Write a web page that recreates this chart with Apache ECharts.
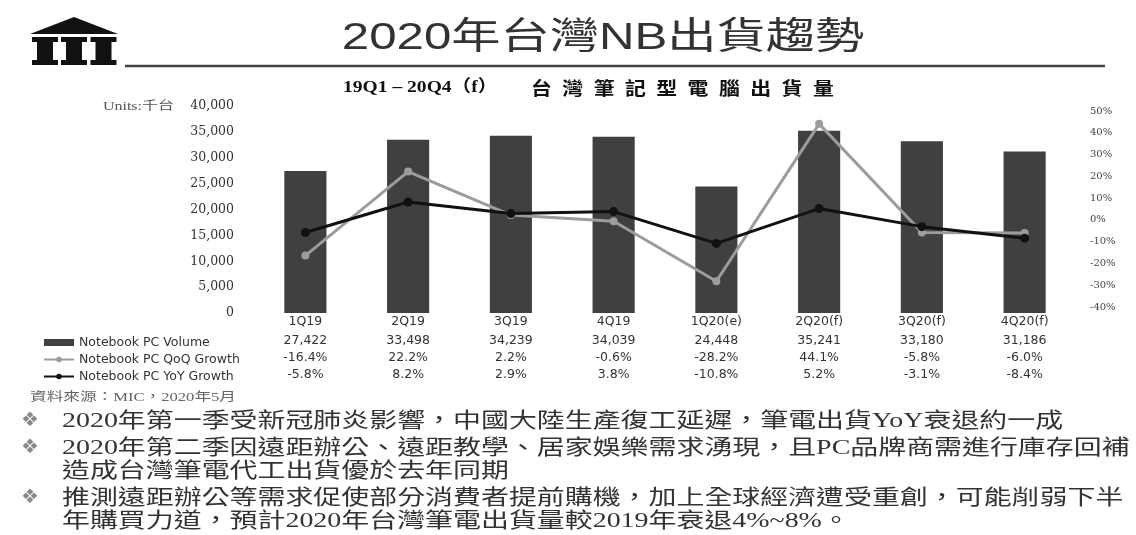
<!DOCTYPE html>
<html>
<head>
<meta charset="utf-8">
<script src="https://cdn.jsdelivr.net/npm/echarts@6/dist/echarts.min.js"></script>
<style>
  html, body { margin: 0; padding: 0; background: #fff; }
  #chart { width: 1136px; height: 535px; }
</style>
</head>
<body>
<div id="chart"></div>
<script>
// 資料
const categories = ['1Q19', '2Q19', '3Q19', '4Q19', '1Q20(e)', '2Q20(f)', '3Q20(f)', '4Q20(f)']
const volume = [27422, 33498, 34239, 34039, 24448, 35241, 33180, 31186]
const qoqGrowth = [-16.4, 22.2, 2.2, -0.6, -28.2, 44.1, -5.8, -6.0]
const yoyGrowth = [-5.8, 8.2, 2.9, 3.8, -10.8, 5.2, -3.1, -8.4]

const bullets = [
  '2020年第一季受新冠肺炎影響，中國大陸生產復工延遲，筆電出貨YoY衰退約一成',
  '2020年第二季因遠距辦公、遠距教學、居家娛樂需求湧現，且PC品牌商需進行庫存回補',
  '造成台灣筆電代工出貨優於去年同期',
  '推測遠距辦公等需求促使部分消費者提前購機，加上全球經濟遭受重創，可能削弱下半',
  '年購買力道，預計2020年台灣筆電出貨量較2019年衰退4%~8%。'
]

const SANS = 'DejaVu Sans'
const SERIF = "'Liberation Serif', 'Noto Sans CJK TC'"
const STRETCH = 1.33 // 投影片被橫向拉寬

const fmtPct = (v) => v.toFixed(1) + '%'

function text(str, x, y, style, scaleX) {
  return {
    type: 'text',
    x: x,
    y: y,
    scaleX: scaleX || 1,
    silent: true,
    style: Object.assign({ text: str, verticalAlign: 'middle', align: 'left', fill: '#222' }, style)
  }
}

function pillar(cx) {
  return [
    { type: 'rect', shape: { x: cx - 13, y: 37, width: 26, height: 5 }, style: { fill: '#111' } },
    { type: 'rect', shape: { x: cx - 8, y: 42, width: 16, height: 18 }, style: { fill: '#111' } },
    { type: 'rect', shape: { x: cx - 13, y: 60, width: 26, height: 5 }, style: { fill: '#111' } }
  ]
}

const bulletRows = [421, 448, 471, 498, 521]
const bulletMark = [true, true, false, true, false]

const graphics = [
  { type: 'polygon', shape: { points: [[30, 34], [74, 17], [118, 34]] }, style: { fill: '#111' } },
  ...pillar(45), ...pillar(74), ...pillar(103.5),
  { type: 'line', shape: { x1: 125, y1: 66, x2: 1105, y2: 66 }, style: { stroke: '#444', lineWidth: 2.5 } },
  text('2020年台灣NB出貨趨勢', 603, 39, {
    align: 'center', fontSize: 37, fontFamily: "'Liberation Sans', 'Noto Sans CJK TC'", fill: '#333'
  }, STRETCH),
  text('19Q1 – 20Q4（f）', 343, 88, { fontSize: 17, fontWeight: 'bold', fontFamily: SERIF, fill: '#111' }, 1.15),
  text('台\u2002灣\u2002筆\u2002記\u2002型\u2002電\u2002腦\u2002出\u2002貨\u2002量', 531, 88, {
    fontSize: 18, fontWeight: 'bold', fontFamily: "'Noto Sans CJK TC'", fill: '#111'
  }, 1.16),
  text('Units:千台', 103, 107, { fontSize: 12, fontFamily: SERIF, fill: '#555' }, STRETCH),
  text('資料來源：MIC，2020年5月', 30, 398, { fontSize: 12.5, fontFamily: SERIF, fill: '#666' }, STRETCH)
]

bullets.forEach((line, i) => {
  if (bulletMark[i]) {
    graphics.push(text('❖', 30, bulletRows[i], { align: 'center', fontSize: 20, fontFamily: SANS, fill: '#888' }))
  }
  graphics.push(text(line, 62, bulletRows[i], { fontSize: 21, fontFamily: SERIF, fill: '#333' }, STRETCH))
})

const rowAxis = (offset, formatter) => ({
  type: 'category',
  gridIndex: 0,
  position: 'bottom',
  offset: offset,
  data: categories,
  axisLine: { show: false },
  axisTick: { show: false },
  axisLabel: { interval: 0, margin: 2, fontFamily: SANS, fontSize: 12.5, color: '#333', formatter: formatter }
})

const chart = echarts.init(document.getElementById('chart'))

const options = {
  animation: false,
  backgroundColor: '#fff',
  graphic: graphics,
  legend: {
    orient: 'vertical',
    left: 38,
    top: 330,
    itemWidth: 30,
    itemHeight: 7,
    itemGap: 2,
    textStyle: { fontFamily: SANS, fontSize: 12.5, color: '#333', lineHeight: 15 },
    data: [
      { name: 'Notebook PC Volume', icon: 'rect' },
      'Notebook PC QoQ Growth',
      'Notebook PC YoY Growth'
    ]
  },
  grid: [
    { left: 254, right: 60, top: 106, bottom: 222 },
    { left: 254, right: 60, top: 111, bottom: 228 }
  ],
  xAxis: [
    rowAxis(0),
    rowAxis(19, (v, i) => volume[i].toLocaleString('en-US')),
    rowAxis(36, (v, i) => fmtPct(qoqGrowth[i])),
    rowAxis(53, (v, i) => fmtPct(yoyGrowth[i])),
    {
      type: 'category',
      gridIndex: 1,
      data: categories,
      show: false
    }
  ],
  yAxis: [
    {
      type: 'value',
      gridIndex: 0,
      min: 0,
      max: 40000,
      interval: 5000,
      splitLine: { show: false },
      axisLine: { show: false },
      axisTick: { show: false },
      axisLabel: {
        margin: 20,
        fontFamily: 'DejaVu Serif',
        fontSize: 12.5,
        color: '#333',
        formatter: (v) => v.toLocaleString('en-US')
      }
    },
    {
      type: 'value',
      gridIndex: 1,
      position: 'right',
      min: -40,
      max: 50,
      interval: 10,
      splitLine: { show: false },
      axisLine: { show: false },
      axisTick: { show: false },
      axisLabel: { margin: 14, fontFamily: 'DejaVu Serif', fontSize: 10, color: '#444', formatter: '{value}%' }
    }
  ],
  series: [
    {
      name: 'Notebook PC Volume',
      type: 'bar',
      xAxisIndex: 0,
      yAxisIndex: 0,
      barWidth: '41%',
      itemStyle: { color: '#404040' },
      data: volume
    },
    {
      name: 'Notebook PC QoQ Growth',
      type: 'line',
      xAxisIndex: 4,
      yAxisIndex: 1,
      symbol: 'circle',
      symbolSize: 8,
      itemStyle: { color: '#9c9c9c' },
      lineStyle: { color: '#9c9c9c', width: 3 },
      data: qoqGrowth
    },
    {
      name: 'Notebook PC YoY Growth',
      type: 'line',
      xAxisIndex: 4,
      yAxisIndex: 1,
      symbol: 'circle',
      symbolSize: 9,
      itemStyle: { color: '#111' },
      lineStyle: { color: '#111', width: 3 },
      data: yoyGrowth
    }
  ]
}

chart.setOption(options)
</script>
</body>
</html>
